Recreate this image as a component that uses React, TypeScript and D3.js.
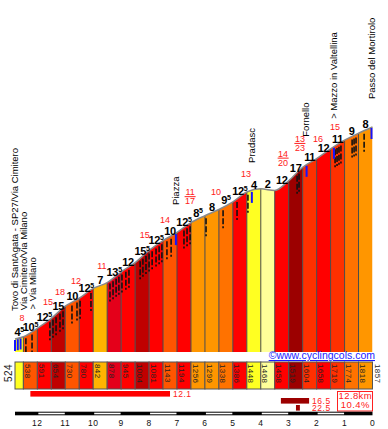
import React, { useEffect, useRef } from "react";
import * as d3 from "d3";

// segment lengths (km) and elevation at each segment boundary (m)
const segLengths = [0.3, 0.5, 0.5, 0.5, 0.5, 0.5, 0.5, 0.5, 0.5, 0.5, 0.5, 0.5, 0.5, 0.5, 0.5, 0.5, 0.5, 0.5, 0.5, 0.5, 0.5, 0.5, 0.5, 0.5, 0.5, 0.5];
const elevations = [524, 538, 591, 654, 730, 780, 842, 878, 945, 1004, 1081, 1143, 1194, 1256, 1299, 1338, 1386, 1448, 1468, 1458, 1519, 1604, 1658, 1719, 1774, 1818, 1857];
const gradeLabels = [4.5, 10.5, 12.5, 15, 10, 12.5, 7, 13.5, 12, 15.5, 12.5, 10, 12.5, 8.5, 8, 9.5, 12.5, 4, -2, 12, 17, 11, 12, 11, 9, 8];

// red max-gradient notes (km from start)
const redKm = [0.25, 1.18, 1.61, 2.18, 3.11, 4.65, 5.37, 6.27, 7.2, 8.27, 9.6, 10.2, 10.85, 11.46];
const redText = ["8", "15", "18", "12", "11", "15", "14", "11/17", "10", "13", "14/20", "13/23", "16", "15"];

// places along the road
const placeKm = [0.0, 0.1, 0.2, 5.76, 8.48, 10.44, 11.42, 12.8];
const placeNames = [
  "Tovo di SantAgata - SP27/Via Cimitero",
  "Via Cimitero/Via Milano",
  "> Via Milano",
  "Piazza",
  "Pradasc",
  "Fornello",
  "> Mazzo in Valtellina",
  "Passo del Mortirolo",
];

// steep spots (dashed marks under the road)
const dashKm = [0.39, 0.61, 1.25, 1.36, 1.47, 1.61, 1.72, 2.04, 2.22, 2.33, 2.72, 3.4, 3.51, 3.62, 3.72, 3.83, 3.97, 4.08, 4.48, 4.58, 4.69, 4.8, 4.91, 5.05, 5.16, 5.26, 5.44, 5.59, 6.05, 6.16, 6.27, 6.84, 7.45, 7.95, 8.34, 10.1, 10.17, 11.46, 11.53, 11.6, 11.67, 12.07, 12.14, 12.21, 12.5];

// steepest stretches
const steepFrom = [0.55, 9.52, 10.06];
const steepTo = [5.55, 10.53, 10.2];
const steepValues = [12.1, 16.5, 22.5];

const kmTicks = [12, 11, 10, 9, 8, 7, 6, 5, 4, 3, 2, 1, 0];

const gradeColor = (g: number) => {
  const a = Math.abs(g);
  if (a < 3) return "#ffff99";
  if (a < 6) return "#ffff22";
  if (a < 8) return "#ffb400";
  if (a < 9) return "#ff9600";
  if (a < 10) return "#ff7200";
  if (a < 11) return "#ff5500";
  if (a < 12) return "#ff3000";
  if (a < 13) return "#ff0000";
  if (a < 15) return "#e4001a";
  if (a < 16) return "#c00000";
  return "#9c0000";
};

const FONT = "'Liberation Sans', Arial, sans-serif";

const App = () => {
  const svgRef = useRef<SVGSVGElement>(null);

  useEffect(() => {
    const svg = d3.select(svgRef.current);
    svg.selectAll("*").remove();

    const bounds = [0];
    segLengths.forEach((l) => bounds.push(+(bounds[bounds.length - 1] + l).toFixed(2)));
    const total = bounds[bounds.length - 1];

    const x = d3.scaleLinear().domain([0, total]).range([15, 372.5]);
    const y = d3.scaleLinear().domain([442, 1857]).range([352, 127]);
    const baseY = y(442);
    const elevAt = d3.scaleLinear().domain(bounds).range(elevations);
    const topAt = (km: number) => y(elevAt(km));

    const pts = bounds.map((b, i) => [b, elevations[i]]);
    const area = d3.area<number[]>().x((d) => x(d[0])).y0(baseY).y1((d) => y(d[1])).curve(d3.curveMonotoneX);
    const line = d3.line<number[]>().x((d) => x(d[0])).y((d) => y(d[1])).curve(d3.curveMonotoneX);

    svg.append("defs").append("clipPath").attr("id", "profile-clip")
      .append("path").attr("d", area(pts));

    // coloured profile
    const prof = svg.append("g").attr("clip-path", "url(#profile-clip)");
    prof.selectAll("rect").data(gradeLabels).join("rect")
      .attr("x", (d, i) => x(bounds[i]))
      .attr("width", (d, i) => x(bounds[i + 1]) - x(bounds[i]))
      .attr("y", y(1900)).attr("height", baseY - y(1900))
      .attr("fill", (d) => gradeColor(d));
    prof.selectAll("line.sep").data(bounds.slice(1, -1)).join("line")
      .attr("class", "sep")
      .attr("x1", (d) => x(d)).attr("x2", (d) => x(d))
      .attr("y1", y(1900)).attr("y2", baseY)
      .attr("stroke", "#4a4a4a").attr("stroke-width", 1);
    prof.selectAll("line.dash").data(dashKm).join("line")
      .attr("class", "dash")
      .attr("x1", (d) => x(d)).attr("x2", (d) => x(d))
      .attr("y1", (d) => topAt(d) + 3).attr("y2", (d) => topAt(d) + 21)
      .attr("stroke", "#111").attr("stroke-width", 1.6).attr("stroke-dasharray", "6,2");

    svg.append("path").attr("d", line(pts))
      .attr("fill", "none").attr("stroke", "#888").attr("stroke-width", 1.5);

    // place markers
    svg.selectAll("line.mark").data(placeKm).join("line")
      .attr("class", "mark")
      .attr("x1", (d) => Math.min(x(d), x(total) - 1)).attr("x2", (d) => Math.min(x(d), x(total) - 1))
      .attr("y1", (d) => topAt(d) + 1).attr("y2", (d) => Math.min(topAt(d) + 12, baseY))
      .attr("stroke", "#1414ff").attr("stroke-width", 2);

    // gradient labels
    const lbl = svg.append("g")
      .attr("font-family", FONT).attr("font-weight", "bold").attr("font-size", 11)
      .attr("letter-spacing", -0.3).attr("text-anchor", "middle").attr("fill", "#000");
    gradeLabels.forEach((g, i) => {
      const mid = (bounds[i] + bounds[i + 1]) / 2;
      const a = Math.abs(g);
      const whole = Math.floor(a);
      const frac = Math.round((a - whole) * 10);
      const t = lbl.append("text")
        .attr("x", Math.max(x(mid), 17))
        .attr("y", y((elevations[i] + elevations[i + 1]) / 2) - 1.8);
      t.append("tspan").text(whole);
      if (frac) t.append("tspan").attr("font-size", 7).attr("dy", -4).text(frac);
    });

    // red notes
    const red = svg.append("g")
      .attr("font-family", FONT).attr("font-size", 9).attr("fill", "#ff2020")
      .attr("text-anchor", "middle").attr("dominant-baseline", "central");
    redText.forEach((s, i) => {
      const cx = x(redKm[i]);
      const ty = topAt(redKm[i]);
      if (s.includes("/")) {
        const [a, b] = s.split("/");
        red.append("text").attr("x", cx).attr("y", ty - 31).text(a);
        red.append("line").attr("x1", cx - 5.5).attr("x2", cx + 5.5)
          .attr("y1", ty - 26.5).attr("y2", ty - 26.5).attr("stroke", "#ff2020").attr("stroke-width", 1);
        red.append("text").attr("x", cx).attr("y", ty - 22).text(b);
      } else {
        red.append("text").attr("x", cx).attr("y", ty - 19).text(s);
      }
    });

    // place names
    const pl = svg.append("g").attr("font-family", FONT).attr("font-size", 9.5).attr("fill", "#000");
    let prev = -Infinity;
    placeKm.forEach((km, i) => {
      const cx = Math.max(x(km) - 0.5, prev + 9);
      prev = cx;
      pl.append("text")
        .attr("transform", `translate(${cx + 3.4},${topAt(km) - 28}) rotate(-90)`)
        .text(placeNames[i]);
    });

    // link
    svg.append("text").attr("x", 375).attr("y", 359).attr("text-anchor", "end")
      .attr("font-family", FONT).attr("font-size", 10.5)
      .attr("fill", "#1a1aff").attr("text-decoration", "underline")
      .text("\u00a9www.cyclingcols.com");

    // elevation band
    const bandTop = 362, bandH = 27;
    const band = svg.append("g");
    band.selectAll("rect").data(gradeLabels).join("rect")
      .attr("x", (d, i) => x(bounds[i]))
      .attr("width", (d, i) => x(bounds[i + 1]) - x(bounds[i]))
      .attr("y", bandTop).attr("height", bandH)
      .attr("fill", (d) => gradeColor(d))
      .attr("stroke", "#555").attr("stroke-width", 1);
    const bt = band.append("g")
      .attr("font-family", FONT).attr("font-size", 8).attr("fill", "#222").attr("letter-spacing", 0.4);
    elevations.slice(1, -1).forEach((e, j) => {
      const i = j + 1;
      bt.append("text")
        .attr("transform", `translate(${x(bounds[i]) + 4.5 - 2.9},${bandTop + 2}) rotate(90)`)
        .text(e);
    });
    bt.append("text")
      .attr("transform", `translate(${x(total) + 5.5 - 2.9},${bandTop + 2}) rotate(90)`)
      .text(elevations[elevations.length - 1]);
    bt.append("text").attr("font-size", 10).attr("text-anchor", "middle")
      .attr("transform", `translate(${8 + 3.6},${bandTop + 11}) rotate(-90)`)
      .text(elevations[0]);

    // steepest stretches
    const st = svg.append("g")
      .attr("font-family", FONT).attr("font-size", 8.5).attr("fill", "#ff2020").attr("letter-spacing", 0.5);
    const darkEnd = d3.max(steepTo.slice(1)) as number;
    steepValues.forEach((v, i) => {
      const by = 391 + i * 7;
      st.append("rect").attr("x", x(steepFrom[i])).attr("width", x(steepTo[i]) - x(steepFrom[i]))
        .attr("y", by).attr("height", 5.6).attr("fill", gradeColor(v));
      st.append("text").attr("x", (i === 0 ? x(steepTo[i]) : x(darkEnd)) + 3).attr("y", by + 6)
        .text(v.toFixed(1));
    });

    // summary box
    const avg = ((elevations[elevations.length - 1] - elevations[0]) / (total * 1000)) * 100;
    svg.append("rect").attr("x", 337.5).attr("y", 391.5).attr("width", 35).attr("height", 19.5)
      .attr("fill", "#fff").attr("stroke", "#ff2020").attr("stroke-width", 1);
    const bx = svg.append("g").attr("font-family", FONT)
      .attr("font-size", 9.5).attr("fill", "#ff2020").attr("text-anchor", "middle").attr("letter-spacing", 0.4);
    bx.append("text").attr("x", 355.3).attr("y", 399.3).text(`${total.toFixed(1)}km`);
    bx.append("text").attr("x", 355.3).attr("y", 407.5).text(`${avg.toFixed(1)}%`);

    // km axis
    const ax = svg.append("g");
    ax.append("rect").attr("x", x(0)).attr("width", x(total) - x(0))
      .attr("y", 411.7).attr("height", 3.6).attr("fill", "#000");
    kmTicks.filter((k) => k > 0 && k % 2 === 0).forEach((k) => {
      ax.append("rect").attr("x", x(total - k) + 1).attr("width", x(total - k + 1) - x(total - k) - 1.5)
        .attr("y", 412.7).attr("height", 1.6).attr("fill", "#fff");
    });
    ax.selectAll("text").data(kmTicks).join("text")
      .attr("x", (d) => x(total - d)).attr("y", 425.5)
      .attr("text-anchor", "middle")
      .attr("font-family", FONT).attr("font-size", 8.5).attr("fill", "#111").attr("letter-spacing", 0.5)
      .text((d) => d);
  }, []);

  return (
    <svg ref={svgRef} width={388} height={429}
      style={{ position: "absolute", left: 0, top: 0, background: "#fff", display: "block" }} />
  );
};

export default App;
